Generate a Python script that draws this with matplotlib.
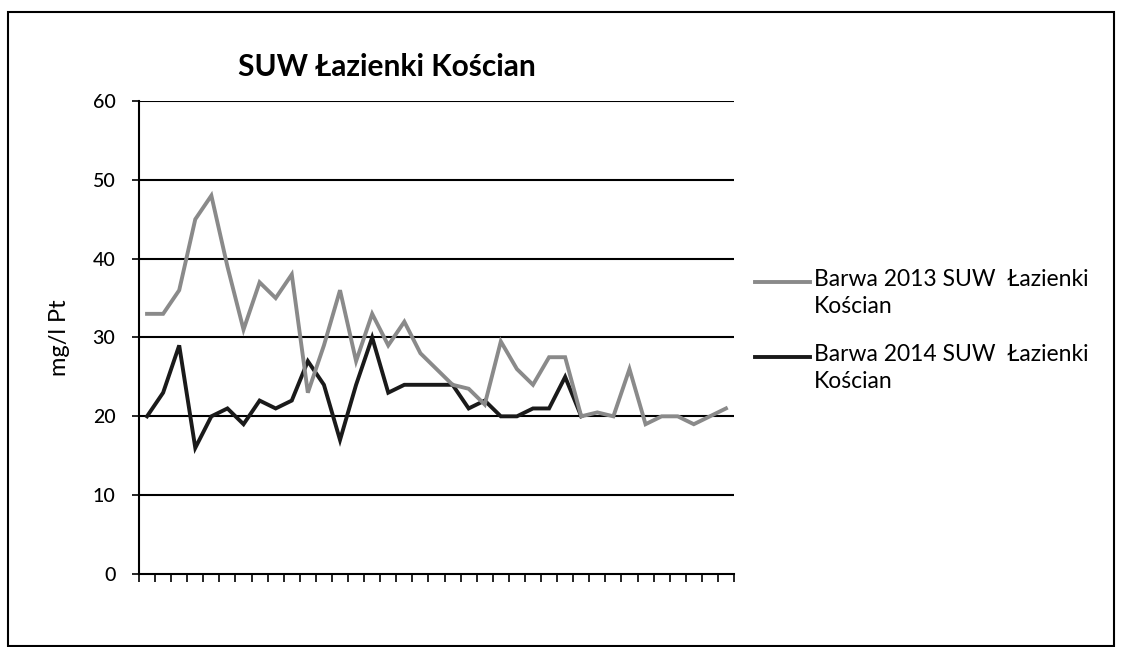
import matplotlib
matplotlib.use("Agg")
import matplotlib.pyplot as plt
from matplotlib.lines import Line2D
from matplotlib.patches import Rectangle
import numpy as np

plt.rcParams['font.family'] = ['Lato', 'DejaVu Sans']

title = "SUW Łazienki Kościan"
ylabel = "mg/l Pt"
label_2013 = "Barwa 2013 SUW  Łazienki\nKościan"
label_2014 = "Barwa 2014 SUW  Łazienki\nKościan"
n_categories = 37
yticks = [0, 10, 20, 30, 40, 50, 60]

barwa_2013 = [33, 33, 36, 45, 48, 39, 31, 37, 35, 38, 23, 29, 36, 27, 33, 29, 32,
              28, 26, 24, 23.5, 21.5, 29.5, 26, 24, 27.5, 27.5, 20, 20.5, 20, 26,
              19, 20, 20, 19, 20, 21]
barwa_2014 = [20, 23, 29, 16, 20, 21, 19, 22, 21, 22, 27, 24, 17, 24, 30, 23, 24,
              24, 24, 24, 21, 22, 20, 20, 21, 21, 25, 20]

fig = plt.figure(figsize=(11.24, 6.47), dpi=100)
fig.patch.set_facecolor('white')
fig.add_artist(Rectangle((8/1124, 0.002), (1114-8)/1124, 1-12/647-0.002,
                         transform=fig.transFigure, fill=False,
                         edgecolor='black', linewidth=1.5))

ax = fig.add_axes([139/1124, 1-574/647, (734-139)/1124, (574-101)/647])
ax.set_xlim(-0.5, n_categories - 0.5)
ax.set_ylim(0, 60)

for v in yticks[1:]:
    ax.axhline(v, color='black', linewidth=1.5, zorder=1)

c13 = '#8a8a8a'
c14 = '#1a1a1a'
ax.plot(np.arange(len(barwa_2013)), barwa_2013, color=c13, linewidth=2.8, zorder=3,
        solid_joinstyle='miter')
ax.plot(np.arange(len(barwa_2014)), barwa_2014, color=c14, linewidth=2.8, zorder=2,
        solid_joinstyle='miter')

ax.set_yticks(yticks)
ax.set_yticklabels([str(v) for v in yticks], fontsize=14, fontweight='medium')
ax.set_xticks(np.arange(-0.5, n_categories, 1.0))
ax.set_xticklabels([])
ax.tick_params(axis='x', direction='out', length=6, width=1.2, color='black')
ax.tick_params(axis='y', direction='out', length=5, width=1.2, color='black', pad=12)
for s in ['top', 'right']:
    ax.spines[s].set_visible(False)
ax.spines['left'].set_linewidth(1.5)
ax.spines['bottom'].set_linewidth(1.5)

ax.set_ylabel(ylabel, fontsize=17, labelpad=16)
fig.text(387/1124, 1-67/647, title, fontsize=21.5, fontweight='bold',
         ha='center', va='center')

# legend
for ylin, col, lab in [(282, c13, label_2013), (357, c14, label_2014)]:
    fig.add_artist(Line2D([755/1124, 810/1124], [1-ylin/647, 1-ylin/647],
                          transform=fig.transFigure, color=col, linewidth=2.8))
    fig.text(814/1124, 1-(ylin-13)/647, lab, fontsize=16.5, ha='left', va='top',
             linespacing=1.35)

fig.savefig('out.png', dpi=100)
